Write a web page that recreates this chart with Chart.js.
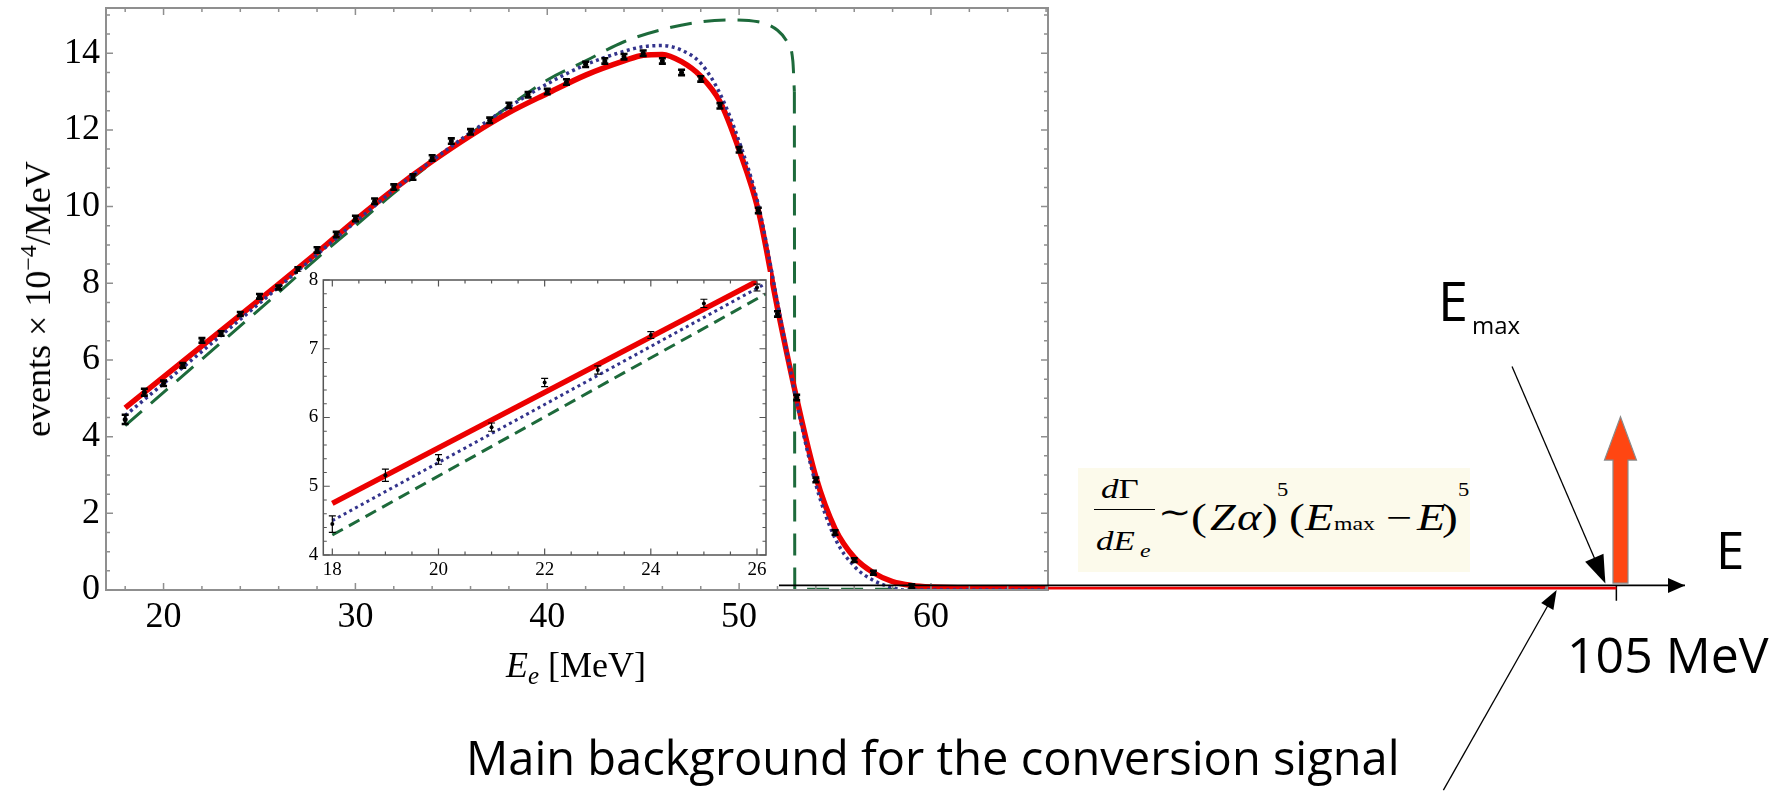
<!DOCTYPE html>
<html lang="en">
<head>
<meta charset="UTF-8">
<title>Muon decay-in-orbit spectrum</title>
<script src="https://cdn.jsdelivr.net/npm/chart.js"></script>
<style>
  html, body { margin: 0; padding: 0; background: #fff; }
  body { width: 1779px; height: 809px; position: relative; overflow: hidden; }
  canvas { position: absolute; }
  .t { position: absolute; line-height: 1; white-space: nowrap; color: #000; }
  .serif { font-family: 'Liberation Serif', 'Times New Roman', serif; }
  .hand { font-family: 'Open Sans', sans-serif; }
  #formula { position: absolute; left: 1078px; top: 468px; width: 392px; height: 104px; background: #fcfaeb; }
  #formula span { position: absolute; line-height: 1; white-space: nowrap; transform: scaleX(1.25); transform-origin: 0 0; }
  #formula .bar { position: absolute; left: 16px; top: 40.5px; width: 61px; height: 1.5px; background: #000; }
</style>
</head>
<body>
<canvas id="mainChart" width="1779" height="809" style="left:0;top:0"></canvas>
<canvas id="insetChart" width="472" height="308" style="left:298px;top:272px"></canvas>
<canvas id="schemeChart" width="1779" height="809" style="left:0;top:0"></canvas>

<div class="t serif" style="left:38px;top:299px;font-size:36px;transform:translate(-50%,-50%) rotate(-90deg)">events × 10<span style="font-size:24px;position:relative;top:-14px">−4</span>/MeV</div>
<div class="t serif" style="left:576px;top:647px;font-size:36px;transform:translateX(-50%)"><i>E</i><span style="font-size:25px;position:relative;top:7px"><i>e</i></span> [MeV]</div>

<div id="formula" class="serif">
  <span style="left:23px;top:7px;font-size:28px"><i>d</i>Γ</span>
  <div class="bar"></div>
  <span style="left:18px;top:58.5px;font-size:28px"><i>dE</i></span>
  <span style="left:62px;top:73px;font-size:19px"><i>e</i></span>
  <span style="left:80px;top:28px;font-size:32px">∼</span>
  <span style="left:113px;top:30px;font-size:38px">(</span>
  <span style="left:132px;top:31px;font-size:37px"><i>Z</i></span>
  <span style="left:159px;top:31px;font-size:37px"><i>α</i></span>
  <span style="left:184px;top:30px;font-size:38px">)</span>
  <span style="left:199px;top:13px;font-size:18px">5</span>
  <span style="left:211px;top:30px;font-size:38px">(</span>
  <span style="left:227px;top:31px;font-size:37px"><i>E</i></span>
  <span style="left:256px;top:46px;font-size:19px">max</span>
  <span style="left:308px;top:31px;font-size:37px">−</span>
  <span style="left:339px;top:31px;font-size:37px"><i>E</i></span>
  <span style="left:364px;top:30px;font-size:38px">)</span>
  <span style="left:380px;top:13px;font-size:18px">5</span>
</div>

<div class="t hand" style="left:1438px;top:273px;font-size:54px">E</div>
<div class="t hand" style="left:1472px;top:313px;font-size:24px">max</div>
<div class="t hand" style="left:1716px;top:524px;font-size:51px">E</div>
<div class="t hand" style="left:1567px;top:629px;font-size:50px">105 MeV</div>
<div class="t hand" style="left:466px;top:734px;font-size:47px">Main background for the conversion signal</div>

<script>
// measured spectrum (E in MeV, events x 10^-4 / MeV)
const pointE = [18, 19, 20, 21, 22, 23, 24, 25, 26, 27, 28, 29, 30, 31, 32, 33, 34, 35, 36, 37,
                38, 39, 40, 41, 42, 43, 44, 45, 46, 47, 48, 49, 50, 51, 52, 53, 54, 55, 56, 57, 59];
const pointV = [4.45, 5.16, 5.39, 5.86, 6.51, 6.69, 7.20, 7.66, 7.89, 8.35, 8.87, 9.27, 9.69, 10.14, 10.51, 10.77, 11.27, 11.71, 11.95, 12.25,
                12.64, 12.92, 13.00, 13.25, 13.71, 13.80, 13.91, 14.00, 13.80, 13.50, 13.33, 12.63, 11.48, 9.90, 7.20, 5.02, 2.87, 1.50, 0.78, 0.45, 0.10];
const pointErr = [0.12, 0.09, 0.07, 0.06, 0.06, 0.06, 0.05, 0.06, 0.05, 0.07, 0.07, 0.07, 0.07, 0.07, 0.07, 0.07, 0.07, 0.07, 0.07, 0.07,
                  0.07, 0.07, 0.07, 0.07, 0.07, 0.07, 0.07, 0.07, 0.07, 0.07, 0.07, 0.07, 0.07, 0.07, 0.07, 0.07, 0.06, 0.06, 0.05, 0.05, 0.05];

// red: full calculation
const redE = [18, 26, 28, 30, 32, 34, 36, 38, 40, 42, 44, 45, 46, 47, 48, 49, 50, 51, 52, 53, 54, 55, 56, 57, 58, 59, 60, 62, 66.1];
const redV = [4.75, 7.98, 8.8, 9.65, 10.45, 11.18, 11.85, 12.45, 12.95, 13.43, 13.8, 13.95, 13.97, 13.78, 13.4, 12.74, 11.48, 9.9, 7.35, 5.0, 2.95, 1.6, 0.85, 0.45, 0.22, 0.12, 0.08, 0.06, 0.06];
// blue dotted
const blueE = [18, 26, 28, 30, 32, 34, 36, 38, 40, 42, 44, 45, 46, 47, 48, 49, 50, 51, 52, 53, 54, 55, 56, 57, 58, 58.6, 66.1];
const blueV = [4.55, 7.9, 8.75, 9.6, 10.43, 11.2, 11.93, 12.6, 13.2, 13.7, 14.05, 14.17, 14.2, 14.08, 13.74, 12.95, 11.7, 10.05, 7.5, 4.9, 2.75, 1.35, 0.62, 0.25, 0.06, 0.0, 0.0];
// green dashed (free muon), then its sharp edge
const greenE = [18, 26, 28, 30, 32, 34, 36, 38, 40, 42, 44, 46, 48, 49.5, 51, 52, 52.5, 52.8, 52.88];
const greenV = [4.29, 7.76, 8.65, 9.5, 10.35, 11.15, 11.9, 12.62, 13.3, 13.8, 14.3, 14.62, 14.82, 14.87, 14.82, 14.6, 14.3, 13.8, 13.0];
const greenEdgeE = [52.88, 52.9, 66.1];
const greenEdgeV = [13.0, 0.02, 0.02];

// inset (zoom of 18-26 MeV)
const insetRedE = [18, 26];      const insetRedV = [4.75, 7.98];
const insetBlueE = [18, 26.17];  const insetBlueV = [4.5, 7.95];
const insetGreenE = [18, 26.17]; const insetGreenV = [4.29, 7.8];

// tick labels
const mainXTicks = [20, 30, 40, 50, 60];
const mainYTicks = [0, 2, 4, 6, 8, 10, 12, 14];
const insetXTicks = [18, 20, 22, 24, 26];
const insetYTicks = [4, 5, 6, 7, 8];

// schematic energy axis out to the conversion line
const axisE = [44, 110];       const axisV = [0.12, 0.12];
const tailE = [63.6, 105];     const tailV = [0.05, 0.05];
const tickE = [105, 105];      const tickV = [0.12, -0.28];
const signalE = 105.3;         const signalV = [0.18, 3.39, 4.52];   // base, head base, tip
const emaxArrow = [[97.4, 5.83], [104.2, 0.17]];
const bgArrow = [[92.4, -5.22], [100.65, 0.0]];

const RED = 'rgb(236,0,0)', BLUE = '#33338c', GREEN = '#1d6a3b';
const xy = (xs, ys) => xs.map((x, i) => ({ x: x, y: ys[i] }));

function frameTicks(o) {
  return {
    id: 'frameTicks',
    afterDatasetsDraw(chart) {
      const { ctx, chartArea: a, scales: { x, y } } = chart;
      ctx.save();
      ctx.strokeStyle = o.color;
      ctx.lineWidth = o.width;
      ctx.strokeRect(a.left, a.top, a.right - a.left, a.bottom - a.top);
      ctx.lineWidth = o.tickWidth;
      ctx.beginPath();
      for (let i = Math.ceil(x.min / o.xStep - 1e-9); i * o.xStep <= x.max + 1e-9; i++) {
        const v = +(i * o.xStep).toFixed(6);
        const len = o.xMajor.includes(v) ? o.major : o.minor;
        const px = x.getPixelForValue(v);
        ctx.moveTo(px, a.bottom); ctx.lineTo(px, a.bottom - len);
        ctx.moveTo(px, a.top); ctx.lineTo(px, a.top + len);
      }
      for (let i = Math.ceil(y.min / o.yStep - 1e-9); i * o.yStep <= y.max + 1e-9; i++) {
        const v = +(i * o.yStep).toFixed(6);
        const len = o.yMajor.includes(v) ? o.major : o.minor;
        const py = y.getPixelForValue(v);
        ctx.moveTo(a.left, py); ctx.lineTo(a.left + len, py);
        ctx.moveTo(a.right, py); ctx.lineTo(a.right - len, py);
      }
      ctx.stroke();
      ctx.restore();
    }
  };
}

function errorBars(o) {
  return {
    id: 'errorBars',
    afterDatasetsDraw(chart) {
      const { ctx, chartArea: a, scales: { x, y } } = chart;
      ctx.save();
      ctx.beginPath();
      ctx.rect(a.left, a.top, a.right - a.left, a.bottom - a.top);
      ctx.clip();
      ctx.strokeStyle = '#000';
      ctx.lineWidth = o.width;
      chart.data.datasets.forEach(ds => {
        if (!ds.errors) return;
        ds.data.forEach((p, i) => {
          const px = x.getPixelForValue(p.x);
          const y1 = y.getPixelForValue(p.y + ds.errors[i]);
          const y2 = y.getPixelForValue(p.y - ds.errors[i]);
          ctx.beginPath();
          ctx.moveTo(px, y1); ctx.lineTo(px, y2);
          ctx.moveTo(px - o.cap, y1); ctx.lineTo(px + o.cap, y1);
          ctx.moveTo(px - o.cap, y2); ctx.lineTo(px + o.cap, y2);
          ctx.stroke();
        });
      });
      ctx.restore();
    }
  };
}

const whiteBack = {
  id: 'whiteBack',
  beforeDraw(chart) {
    const ctx = chart.ctx;
    ctx.save();
    ctx.fillStyle = '#fff';
    ctx.fillRect(0, 0, chart.width, chart.height);
    ctx.restore();
  }
};

function head(ctx, tx, ty, ang, len, half) {
  ctx.save();
  ctx.translate(tx, ty);
  ctx.rotate(ang);
  ctx.beginPath();
  ctx.moveTo(0, 0); ctx.lineTo(-len, -half); ctx.lineTo(-len, half);
  ctx.closePath();
  ctx.fill();
  ctx.restore();
}

const schemeMarks = {
  id: 'schemeMarks',
  afterDatasetsDraw(chart) {
    const { ctx, scales: { x, y } } = chart;
    ctx.save();
    ctx.fillStyle = '#000';
    // arrowhead of the energy axis
    head(ctx, x.getPixelForValue(axisE[1]), y.getPixelForValue(axisV[1]), 0, 17, 7.5);

    // pointer arrows
    [[emaxArrow, 28, 10], [bgArrow, 19, 7]].forEach(([pts, len, half]) => {
      const x0 = x.getPixelForValue(pts[0][0]), y0 = y.getPixelForValue(pts[0][1]);
      const x1 = x.getPixelForValue(pts[1][0]), y1 = y.getPixelForValue(pts[1][1]);
      const ang = Math.atan2(y1 - y0, x1 - x0);
      ctx.strokeStyle = '#000';
      ctx.lineWidth = 1.3;
      ctx.beginPath();
      ctx.moveTo(x0, y0);
      ctx.lineTo(x1 - Math.cos(ang) * len * 0.8, y1 - Math.sin(ang) * len * 0.8);
      ctx.stroke();
      head(ctx, x1, y1, ang, len, half);
    });

    // conversion electron line (thick orange arrow)
    const cx = x.getPixelForValue(signalE);
    const yb = y.getPixelForValue(signalV[0]);
    const yh = y.getPixelForValue(signalV[1]);
    const yt = y.getPixelForValue(signalV[2]);
    ctx.beginPath();
    ctx.moveTo(cx - 7.5, yb); ctx.lineTo(cx - 7.5, yh); ctx.lineTo(cx - 16, yh);
    ctx.lineTo(cx, yt);
    ctx.lineTo(cx + 16, yh); ctx.lineTo(cx + 7.5, yh); ctx.lineTo(cx + 7.5, yb);
    ctx.closePath();
    ctx.fillStyle = '#ff4612';
    ctx.fill();
    ctx.strokeStyle = '#8a8a8a';
    ctx.lineWidth = 1.2;
    ctx.stroke();
    ctx.restore();
  }
};

const serif = 'Liberation Serif';
const noText = { legend: { display: false }, tooltip: { enabled: false } };
// keep the plot frame exactly where the layout padding puts it
const fixX = h => s => { s.height = h; s.paddingLeft = 0; s.paddingRight = 0; };
const fixY = w => s => { s.width = w; s.paddingTop = 0; s.paddingBottom = 0; };

new Chart(document.getElementById('mainChart'), {
  type: 'line',
  data: {
    datasets: [
      { data: xy(pointE, pointV), errors: pointErr, showLine: false, pointRadius: 2.5,
        pointBackgroundColor: '#000', pointBorderWidth: 0 },
      { data: xy(blueE, blueV), borderColor: BLUE, borderWidth: 3.5, borderDash: [3, 3.5],
        pointRadius: 0, cubicInterpolationMode: 'monotone' },
      { data: xy(redE, redV), borderColor: RED, borderWidth: 5.5, pointRadius: 0,
        cubicInterpolationMode: 'monotone' },
      { data: xy(greenEdgeE, greenEdgeV), borderColor: GREEN, borderWidth: 3, borderDash: [22, 12],
        pointRadius: 0, tension: 0 },
      { data: xy(greenE, greenV), borderColor: GREEN, borderWidth: 3, borderDash: [22, 12],
        pointRadius: 0, cubicInterpolationMode: 'monotone' }
    ]
  },
  options: {
    responsive: false,
    animation: false,
    layout: { padding: { left: 0, top: 8, right: 731, bottom: 0 } },
    plugins: noText,
    scales: {
      x: {
        type: 'linear', min: 17, max: 66.1,
        afterBuildTicks: s => { s.ticks = mainXTicks.map(v => ({ value: v })); },
        afterFit: fixX(219),
        grid: { display: false, drawTicks: false },
        border: { display: false },
        ticks: { font: { family: serif, size: 36 }, color: '#000', padding: 6, maxRotation: 0, autoSkip: false }
      },
      y: {
        type: 'linear', min: 0, max: 15.18,
        afterBuildTicks: s => { s.ticks = mainYTicks.map(v => ({ value: v })); },
        afterFit: fixY(106),
        grid: { display: false, drawTicks: false },
        border: { display: false },
        ticks: { font: { family: serif, size: 36 }, color: '#000', padding: 6, autoSkip: false }
      }
    }
  },
  plugins: [errorBars({ width: 2.6, cap: 3.5 }),
            frameTicks({ color: '#8f8f8f', width: 2, tickWidth: 1.5, major: 7, minor: 4,
                         xStep: 2, xMajor: mainXTicks, yStep: 0.5, yMajor: mainYTicks })]
});

new Chart(document.getElementById('insetChart'), {
  type: 'line',
  data: {
    datasets: [
      { data: xy(pointE, pointV), errors: pointErr, showLine: false, pointRadius: 2,
        pointBackgroundColor: '#000', pointBorderWidth: 0 },
      { data: xy(insetRedE, insetRedV), borderColor: RED, borderWidth: 5.5, pointRadius: 0, tension: 0 },
      { data: xy(insetBlueE, insetBlueV), borderColor: BLUE, borderWidth: 3, borderDash: [3, 3.5],
        pointRadius: 0, tension: 0 },
      { data: xy(insetGreenE, insetGreenV), borderColor: GREEN, borderWidth: 3, borderDash: [12, 7],
        pointRadius: 0, tension: 0 }
    ]
  },
  options: {
    responsive: false,
    animation: false,
    layout: { padding: { left: 0, top: 8, right: 2.7, bottom: 0 } },
    plugins: noText,
    scales: {
      x: {
        type: 'linear', min: 17.83, max: 26.17,
        afterBuildTicks: s => { s.ticks = insetXTicks.map(v => ({ value: v })); },
        afterFit: fixX(25),
        grid: { display: false, drawTicks: false },
        border: { display: false },
        ticks: { font: { family: serif, size: 19 }, color: '#000', padding: 4, maxRotation: 0, autoSkip: false }
      },
      y: {
        type: 'linear', min: 4, max: 8,
        afterBuildTicks: s => { s.ticks = insetYTicks.map(v => ({ value: v })); },
        afterFit: fixY(25.3),
        grid: { display: false, drawTicks: false },
        border: { display: false },
        ticks: { font: { family: serif, size: 19 }, color: '#000', padding: 5, autoSkip: false }
      }
    }
  },
  plugins: [whiteBack, errorBars({ width: 1.2, cap: 3.5 }),
            frameTicks({ color: '#555', width: 1.5, tickWidth: 1.2, major: 6.5, minor: 3.5,
                         xStep: 0.5, xMajor: insetXTicks, yStep: 0.2, yMajor: insetYTicks })]
});

new Chart(document.getElementById('schemeChart'), {
  type: 'line',
  data: {
    datasets: [
      { data: xy(tailE, tailV), borderColor: RED, borderWidth: 2.6, pointRadius: 0, clip: false },
      { data: xy(axisE, axisV), borderColor: '#000', borderWidth: 1.6, pointRadius: 0, clip: false },
      { data: xy(tickE, tickV), borderColor: '#000', borderWidth: 1.5, pointRadius: 0, clip: false }
    ]
  },
  options: {
    responsive: false,
    animation: false,
    layout: { padding: { left: 779, top: 8, right: 94, bottom: 219 } },
    plugins: noText,
    scales: {
      x: { type: 'linear', min: 44, max: 110, display: false },
      y: { type: 'linear', min: 0, max: 15.18, display: false }
    }
  },
  plugins: [schemeMarks]
});
</script>
</body>
</html>
